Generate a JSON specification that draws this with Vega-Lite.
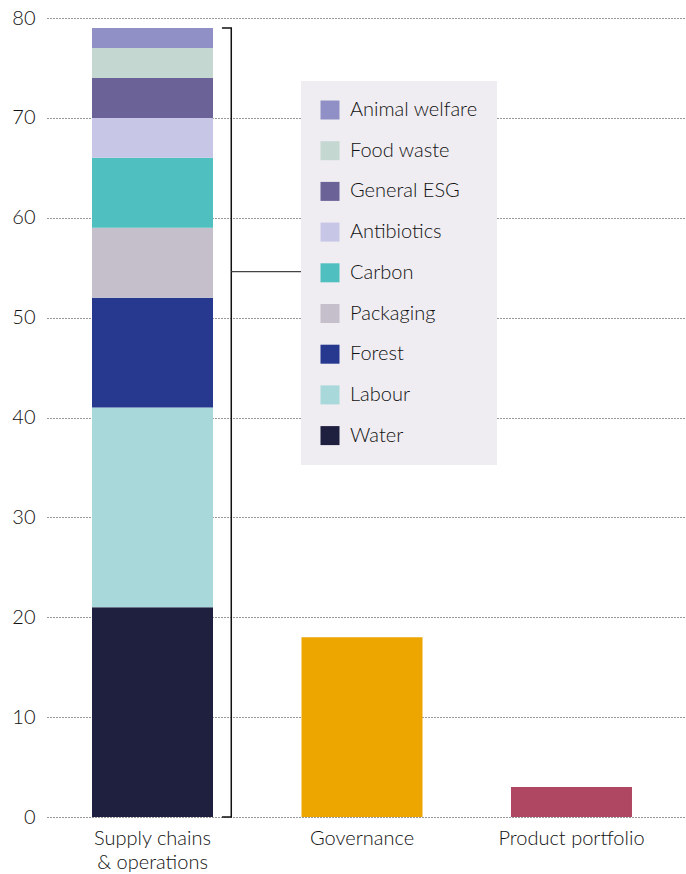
{
  "$schema": "https://vega.github.io/schema/vega-lite/v6.json",
  "autosize": {"type": "none"},
  "padding": {"left": 47, "top": 18, "right": 0, "bottom": 57},
  "width": 639,
  "height": 799,
  "background": "white",
  "config": {
    "view": {"stroke": null},
    "font": "Lato",
    "axis": {"labelFont": "Lato", "labelFontWeight": 300, "labelColor": "#111111", "labelFontSize": 20, "domain": false, "ticks": false, "title": null}
  },
  "datasets": {
    "bars": [
      {"category": "Supply chains & operations", "topic": "Water", "o": 1, "value": 21},
      {"category": "Supply chains & operations", "topic": "Labour", "o": 2, "value": 20},
      {"category": "Supply chains & operations", "topic": "Forest", "o": 3, "value": 11},
      {"category": "Supply chains & operations", "topic": "Packaging", "o": 4, "value": 7},
      {"category": "Supply chains & operations", "topic": "Carbon", "o": 5, "value": 7},
      {"category": "Supply chains & operations", "topic": "Antibiotics", "o": 6, "value": 4},
      {"category": "Supply chains & operations", "topic": "General ESG", "o": 7, "value": 4},
      {"category": "Supply chains & operations", "topic": "Food waste", "o": 8, "value": 3},
      {"category": "Supply chains & operations", "topic": "Animal welfare", "o": 9, "value": 2},
      {"category": "Governance", "topic": "Governance", "o": 1, "value": 18},
      {"category": "Product portfolio", "topic": "Product portfolio", "o": 1, "value": 3}
    ],
    "bracketV": [
      {"from": "Supply chains & operations", "y0": 0, "y1": 79}
    ],
    "bracketH": [
      {"from": "Supply chains & operations", "to": "Supply chains & operations", "part": "top", "y": 79},
      {"from": "Supply chains & operations", "to": "Supply chains & operations", "part": "bottom", "y": 0}
    ],
    "connector": [
      {"from": "Supply chains & operations", "to": "Governance", "y": 54.6}
    ]
  },
  "layer": [
    {
      "data": {"name": "bars"},
      "mark": {"type": "bar"},
      "encoding": {
        "x": {
          "field": "category", "type": "nominal",
          "scale": {"domain": ["Supply chains & operations", "Governance", "Product portfolio"], "paddingInner": 0.4224, "paddingOuter": 0.2363, "align": 0.4545},
          "axis": {
            "labelAngle": 0,
            "labelPadding": 11,
            "labelLineHeight": 24,
            "labelExpr": "datum.value == 'Supply chains & operations' ? ['Supply chains', '& operations'] : datum.value"
          }
        },
        "y": {
          "field": "value", "type": "quantitative", "stack": "zero",
          "scale": {"domain": [0, 80], "nice": false},
          "axis": {"values": [0, 10, 20, 30, 40, 50, 60, 70, 80], "grid": true, "gridDash": [1, 2], "gridColor": "#333333", "gridWidth": 1.2, "labelPadding": 12}
        },
        "order": {"field": "o", "type": "quantitative", "sort": "ascending"},
        "color": {
          "field": "topic", "type": "nominal",
          "scale": {
            "domain": ["Animal welfare", "Food waste", "General ESG", "Antibiotics", "Carbon", "Packaging", "Forest", "Labour", "Water", "Governance", "Product portfolio"],
            "range": ["#9090c6", "#c5d7d1", "#6b6298", "#c8c6e6", "#4fbfbf", "#c4bfcb", "#27398e", "#a8d8d9", "#1f1f3f", "#eda500", "#b04762"]
          },
          "legend": {
            "values": ["Animal welfare", "Food waste", "General ESG", "Antibiotics", "Carbon", "Packaging", "Forest", "Labour", "Water"],
            "title": null,
            "orient": "none",
            "legendX": 254,
            "legendY": 63,
            "padding": 19,
            "fillColor": "#efedf2",
            "strokeColor": null,
            "symbolType": "square",
            "symbolSize": 361,
            "symbolStrokeWidth": 0,
            "symbolOpacity": 1,
            "labelFont": "Lato",
            "labelFontWeight": 300,
            "labelFontSize": 20,
            "labelColor": "#111111",
            "labelOffset": 10,
            "labelLimit": 300,
            "rowPadding": 20.7
          }
        }
      }
    },
    {
      "data": {"name": "bracketV"},
      "mark": {"type": "rule", "color": "#111111", "strokeWidth": 1.5},
      "encoding": {
        "x": {"field": "from", "type": "nominal", "bandPosition": 1.151},
        "y": {"field": "y0", "type": "quantitative"},
        "y2": {"field": "y1"}
      }
    },
    {
      "data": {"name": "bracketH"},
      "mark": {"type": "rule", "color": "#111111", "strokeWidth": 1.5},
      "encoding": {
        "x": {"field": "from", "type": "nominal", "bandPosition": 1.074},
        "x2": {"field": "to", "bandPosition": 1.157},
        "y": {"field": "y", "type": "quantitative"}
      }
    },
    {
      "data": {"name": "connector"},
      "mark": {"type": "rule", "color": "#444444", "strokeWidth": 1.3},
      "encoding": {
        "x": {"field": "from", "type": "nominal", "bandPosition": 1.151},
        "x2": {"field": "to", "bandPosition": 0},
        "y": {"field": "y", "type": "quantitative"}
      }
    }
  ]
}
